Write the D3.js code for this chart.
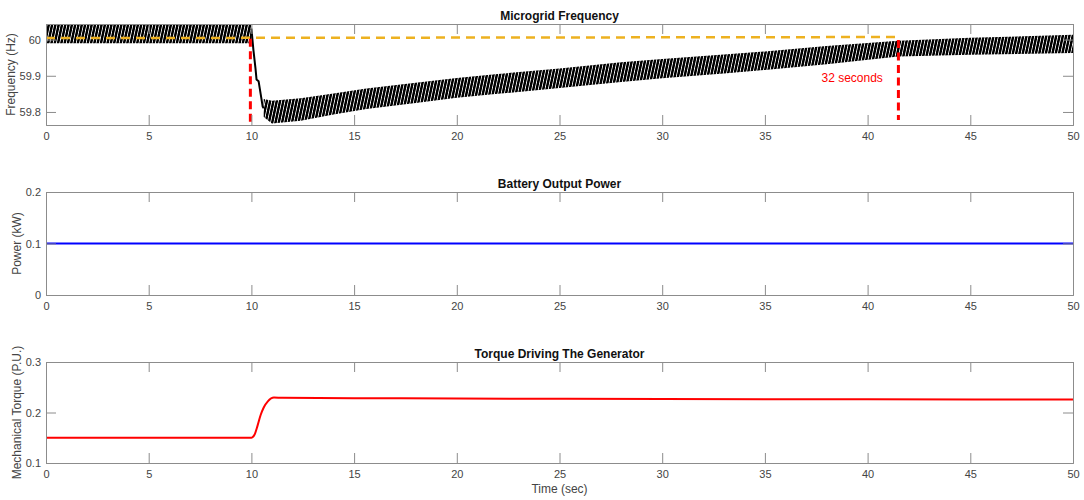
<!DOCTYPE html>
<html>
<head>
<meta charset="utf-8">
<script src="https://cdn.jsdelivr.net/npm/d3@7"></script>
<style>
  body { margin: 0; background: #fff; }
  svg text { font-family: "Liberation Sans", Arial, Helvetica, sans-serif; }
</style>
</head>
<body>
<div id="app"></div>
<script>
// frequency band (oscillation envelope) before the load step
const preTime = [0, 10];
const preUpper = [60.043, 60.043];
const preLower = [59.99, 59.99];

// drop right after the step
const dropTime = [10.0, 10.1, 10.2, 10.25, 10.35, 10.45, 10.55, 10.6];
const dropFreq = [60.03, 59.97, 59.92, 59.89, 59.885, 59.85, 59.815, 59.81];

// oscillation envelope during recovery
const postTime = [10.6, 11, 12.4, 14, 15.6, 18, 20, 22, 25, 28, 30, 33, 35, 38, 41.5, 45, 50];
const postUpper = [59.836, 59.831, 59.838, 59.851, 59.865, 59.881, 59.894, 59.905, 59.920, 59.937, 59.946, 59.959, 59.967, 59.982, 59.997, 60.005, 60.013];
const postLower = [59.786, 59.768, 59.776, 59.793, 59.808, 59.825, 59.839, 59.850, 59.866, 59.883, 59.893, 59.906, 59.916, 59.932, 59.953, 59.958, 59.963];

// reference and markers
const refTime = [0, 41.5];
const refFreq = [60.004, 60.007];
const markerTime = [9.95, 41.5];
const markerTop = [60.002, 59.999];
const markerBottom = [59.764, 59.778];
const annotation = { t: 39.25, f: 59.891, text: "32 seconds" };

// battery power
const powerTime = [0, 50];
const powerVal = [0.1, 0.1];

// torque
const torqueTime = [0, 10, 10.05, 10.15, 10.3, 10.45, 10.6, 10.8, 11.1, 11.5, 15, 20, 30, 40, 50];
const torqueVal = [0.15, 0.15, 0.151, 0.156, 0.174, 0.195, 0.21, 0.222, 0.2295, 0.229, 0.2283, 0.2277, 0.2267, 0.2261, 0.2257];

const xTicks = [0, 5, 10, 15, 20, 25, 30, 35, 40, 45, 50];

const W = 1084, H = 500;
const left = 46, right = 1073;
const axisColor = "#8c8c8c";
const textColor = "#444";

const svg = d3.select("#app").append("svg").attr("width", W).attr("height", H);

const x = d3.scaleLinear().domain([0, 50]).range([left, right]);

// pattern to mimic the dense oscillation
const defs = svg.append("defs");
defs.append("pattern")
  .attr("id", "osc")
  .attr("patternUnits", "userSpaceOnUse")
  .attr("patternTransform", "skewX(-12)")
  .attr("width", 3.3)
  .attr("height", 20)
  .append("rect")
  .attr("width", 2.5)
  .attr("height", 20)
  .attr("fill", "#000");

function panel(cfg) {
  const y = d3.scaleLinear().domain(cfg.domain).range([cfg.bottom, cfg.top]);
  const g = svg.append("g");
  const id = "clip" + cfg.top;
  defs.append("clipPath").attr("id", id)
    .append("rect").attr("x", left).attr("y", cfg.top)
    .attr("width", right - left).attr("height", cfg.bottom - cfg.top);
  const plot = g.append("g").attr("clip-path", `url(#${id})`);

  const fmt = d3.format("~g");
  // axes
  const ax = [
    g.append("g").attr("transform", `translate(0,${cfg.bottom})`)
      .call(d3.axisBottom(x).tickValues(xTicks).tickSize(-10).tickPadding(7).tickFormat(fmt)),
    g.append("g").attr("transform", `translate(0,${cfg.top})`)
      .call(d3.axisTop(x).tickValues(xTicks).tickSize(-10).tickFormat("")),
    g.append("g").attr("transform", `translate(${left},0)`)
      .call(d3.axisLeft(y).tickValues(cfg.yTicks).tickSize(-10).tickPadding(5).tickFormat(fmt)),
    g.append("g").attr("transform", `translate(${right},0)`)
      .call(d3.axisRight(y).tickValues(cfg.yTicks).tickSize(-10).tickFormat(""))
  ];
  ax.forEach(a => {
    a.selectAll("path, line").attr("stroke", axisColor);
    a.selectAll("path").attr("stroke-width", 1);
    a.selectAll("text").attr("fill", textColor).style("font-size", "11px")
      .style("font-family", '"Liberation Sans", Arial, sans-serif');
  });

  g.append("text")
    .attr("x", (left + right) / 2)
    .attr("y", cfg.top - 4)
    .attr("text-anchor", "middle")
    .style("font-size", "12px").style("font-weight", "bold").attr("fill", "#111")
    .text(cfg.title);

  g.append("text")
    .attr("transform", `translate(${cfg.labelX},${(cfg.top + cfg.bottom) / 2}) rotate(-90)`)
    .attr("text-anchor", "middle")
    .attr("dominant-baseline", "middle")
    .style("font-size", "12px").attr("fill", textColor)
    .text(cfg.ylabel);

  return { y, plot, g };
}

// ---- Frequency panel
const p1 = panel({ top: 24, bottom: 125, domain: [59.764, 60.043], yTicks: [59.8, 59.9, 60],
  title: "Microgrid Frequency", ylabel: "Frequency (Hz)", labelX: 12 });

const band = d3.area().x(d => x(d[0])).y0(d => p1.y(d[2])).y1(d => p1.y(d[1]));
p1.plot.append("path")
  .datum(preTime.map((t, i) => [t, preUpper[i], preLower[i]]))
  .attr("d", band).attr("fill", "url(#osc)");
p1.plot.append("path")
  .datum(postTime.map((t, i) => [t, postUpper[i], postLower[i]]))
  .attr("d", band).attr("fill", "url(#osc)");
p1.plot.append("path")
  .datum(dropTime.map((t, i) => [t, dropFreq[i]]))
  .attr("d", d3.line().x(d => x(d[0])).y(d => p1.y(d[1])))
  .attr("fill", "none").attr("stroke", "#000").attr("stroke-width", 2);

p1.plot.append("path")
  .datum(refTime.map((t, i) => [t, refFreq[i]]))
  .attr("d", d3.line().x(d => x(d[0])).y(d => p1.y(d[1])))
  .attr("fill", "none").attr("stroke", "#edb120").attr("stroke-width", 2.5)
  .attr("stroke-dasharray", "9,6");

p1.plot.selectAll(".marker")
  .data(markerTime)
  .join("line")
  .attr("x1", d => x(d)).attr("x2", d => x(d))
  .attr("y1", (d, i) => p1.y(markerTop[i]))
  .attr("y2", (d, i) => p1.y(markerBottom[i]))
  .attr("stroke", "#ff0000").attr("stroke-width", 3)
  .attr("stroke-dasharray", "8,4.5");

p1.g.append("text")
  .attr("x", x(annotation.t)).attr("y", p1.y(annotation.f))
  .attr("text-anchor", "middle").attr("dominant-baseline", "middle")
  .style("font-size", "12px").attr("fill", "#ff0000")
  .text(annotation.text);

// ---- Battery panel
const p2 = panel({ top: 192, bottom: 295, domain: [0, 0.2], yTicks: [0, 0.1, 0.2],
  title: "Battery Output Power", ylabel: "Power (kW)", labelX: 18 });
p2.plot.append("path")
  .datum(powerTime.map((t, i) => [t, powerVal[i]]))
  .attr("d", d3.line().x(d => x(d[0])).y(d => p2.y(d[1])))
  .attr("fill", "none").attr("stroke", "#0000ff").attr("stroke-width", 2);

// ---- Torque panel
const p3 = panel({ top: 362, bottom: 463, domain: [0.1, 0.3], yTicks: [0.1, 0.2, 0.3],
  title: "Torque Driving The Generator", ylabel: "Mechanical Torque (P.U.)", labelX: 18 });
p3.plot.append("path")
  .datum(torqueTime.map((t, i) => [t, torqueVal[i]]))
  .attr("d", d3.line().curve(d3.curveMonotoneX).x(d => x(d[0])).y(d => p3.y(d[1])))
  .attr("fill", "none").attr("stroke", "#ff0000").attr("stroke-width", 2);

svg.append("text")
  .attr("x", (left + right) / 2).attr("y", 490)
  .attr("text-anchor", "middle").attr("dominant-baseline", "middle")
  .style("font-size", "12px").attr("fill", textColor)
  .text("Time (sec)");
</script>
</body>
</html>
